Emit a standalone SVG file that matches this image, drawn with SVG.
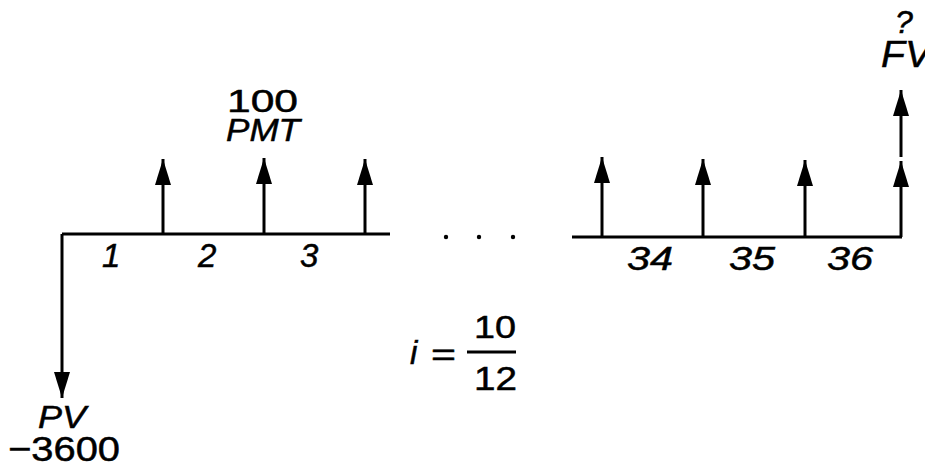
<svg xmlns="http://www.w3.org/2000/svg" width="925" height="468" viewBox="0 0 925 468">
<defs>
<marker id="ah" markerUnits="userSpaceOnUse" markerWidth="26" markerHeight="16" refX="26" refY="8" orient="auto" viewBox="0 0 26 16">
<path d="M0,0 L26,8 L0,16 z" fill="#000"/>
</marker>
<style>
.ln{stroke:#000;stroke-width:3;fill:none}
.ar{stroke:#000;stroke-width:3;fill:none;marker-end:url(#ah)}
.t{font-family:"Liberation Sans",Arial,Helvetica,sans-serif;fill:#000;stroke:#000;stroke-width:0.5}
.it{font-style:italic}
</style>
</defs>
<rect width="925" height="468" fill="#fff"/>
<g id="timeline">
<path class="ln" d="M62,234 H390"/>
<path class="ln" d="M572,237 H902"/>
<circle cx="446" cy="237" r="2.2" fill="#000"/>
<circle cx="479" cy="237" r="2.2" fill="#000"/>
<circle cx="513" cy="237" r="2.2" fill="#000"/>
</g>
<g id="connectors">
<path class="ar" d="M62,234 V398"/>
<path class="ar" d="M163,234 V159"/>
<path class="ar" d="M264,234 V158"/>
<path class="ar" d="M365,234 V159"/>
<path class="ar" d="M602,237 V157"/>
<path class="ar" d="M703,237 V159"/>
<path class="ar" d="M805,237 V160"/>
<path class="ar" d="M901,237 V161"/>
<path class="ar" d="M901,157 V90"/>
</g>
<g id="period-labels" class="t it" font-size="33">
<text x="102" y="267">1</text>
<text x="198" y="267">2</text>
<text x="300" y="267">3</text>
<text x="627" y="270" textLength="46" lengthAdjust="spacingAndGlyphs">34</text>
<text x="729" y="270" textLength="46" lengthAdjust="spacingAndGlyphs">35</text>
<text x="827" y="270" textLength="46" lengthAdjust="spacingAndGlyphs">36</text>
</g>
<g id="pmt-label" class="t">
<text x="227" y="112" font-size="32" textLength="71" lengthAdjust="spacingAndGlyphs">100</text>
<text x="226" y="141" font-size="32" class="it" textLength="74" lengthAdjust="spacingAndGlyphs">PMT</text>
</g>
<g id="fv-label" class="t it">
<text x="904" y="33" font-size="32" text-anchor="middle">?</text>
<text x="881" y="67" font-size="37" textLength="50" lengthAdjust="spacingAndGlyphs">FV</text>
</g>
<g id="pv-label" class="t">
<text x="38" y="428" font-size="31" class="it" textLength="48" lengthAdjust="spacingAndGlyphs">PV</text>
<text x="8" y="461" font-size="35" textLength="112" lengthAdjust="spacingAndGlyphs">−3600</text>
</g>
<g id="rate" class="t">
<text x="410" y="364" font-size="33" class="it">i</text>
<text x="431" y="365" font-size="32" textLength="25" lengthAdjust="spacingAndGlyphs">=</text>
<path class="ln" d="M467,352 H516" stroke-width="2.5"/>
<text x="474" y="338" font-size="32" textLength="42" lengthAdjust="spacingAndGlyphs">10</text>
<text x="474" y="390" font-size="33" textLength="43" lengthAdjust="spacingAndGlyphs">12</text>
</g>
</svg>
